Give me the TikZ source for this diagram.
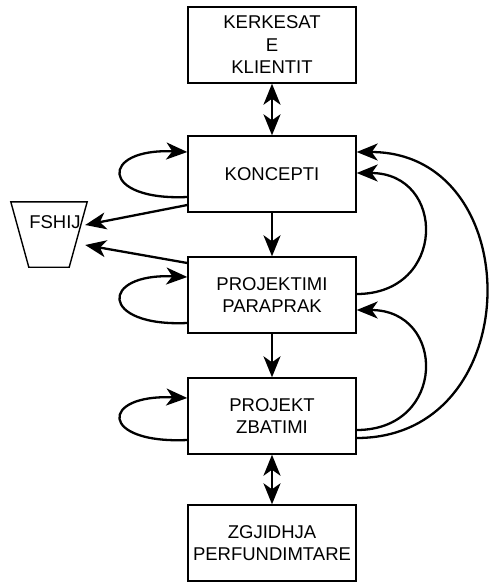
\documentclass[tikz,border=0pt]{standalone}
\usepackage{fontspec}
\setmainfont{Liberation Sans}
\usepackage{tikz}
\usetikzlibrary{arrows.meta}
\tikzstyle{phase} = [rectangle, minimum width=168pt, minimum height=76pt, text centered, align=center, draw=black, line width=1.4pt, fill=white, font=\fontsize{18.5}{22.5}\selectfont]
\tikzstyle{bin} = [rectangle, minimum width=76pt, minimum height=65pt, text depth=25pt, font=\fontsize{18.5}{22.5}\selectfont]
\tikzstyle{binline} = [draw=black, line width=1.4pt]
\tikzstyle{arrow} = [line width=2.3pt,->,>={Stealth[length=21pt,width=17pt,inset=6pt]}]
\tikzstyle{both} = [line width=2.3pt,<->,>={Stealth[length=21pt,width=17pt,inset=6pt]}]

\begin{document}
\begin{tikzpicture}[node distance=121pt, x=1pt, y=1pt]
        \useasboundingbox (0,0) rectangle (489,-582);
        \node (req) [phase] at (272,-45) {KERKESAT\\E\\KLIENTIT};
        \node (concept) [phase, below of=req, yshift=-8pt] {KONCEPTI};
        \node (prelim) [phase, below of=concept] {PROJEKTIMI\\PARAPRAK};
        \node (exec) [phase, below of=prelim] {PROJEKT\\ZBATIMI};
        \node (final) [phase, below of=exec, yshift=-6pt] {ZGJIDHJA\\PERFUNDIMTARE};
        \node (waste) [bin] at (49,-234.5) {\hspace*{12pt}FSHIJ};
        \draw [binline] (waste.north west) -- (waste.north east) -- ([xshift=-18pt]waste.south east) -- ([xshift=18pt]waste.south west) -- cycle;

        \draw [both] (req) -- (concept);
        \draw [arrow] (concept) -- (prelim);
        \draw [arrow] (prelim) -- (exec);
        \draw [both] (exec) -- (final);

        % to the bin
        \draw [arrow] ([yshift=-31pt]concept.west) -- ([xshift=-2pt,yshift=9.5pt]waste.east);
        \draw [arrow] ([yshift=32pt]prelim.west) -- ([xshift=-2pt,yshift=-10.5pt]waste.east);

        % loops on the left
        \draw [arrow] ([yshift=-23pt]concept.west) .. controls +(-88,-4) and +(-88,4) .. ([yshift=22pt]concept.west);
        \draw [arrow] ([yshift=-28pt]prelim.west) .. controls +(-88,-4) and +(-88,4) .. ([yshift=18pt]prelim.west);
        \draw [arrow] ([yshift=-24pt]exec.west) .. controls +(-88,-4) and +(-88,4) .. ([yshift=18pt]exec.west);

        % back to earlier phases
        \draw [arrow] ([yshift=1pt]prelim.east) .. controls +(90,0) and +(90,0) .. ([yshift=1pt]concept.east);
        \draw [arrow] ([yshift=-14pt]exec.east) .. controls +(90,0) and +(90,0) .. ([yshift=-15pt]prelim.east);
        \draw [arrow] ([yshift=-22pt]exec.east) .. controls +(172,0) and +(172,0) .. ([yshift=22pt]concept.east);
    \end{tikzpicture}
\end{document}
